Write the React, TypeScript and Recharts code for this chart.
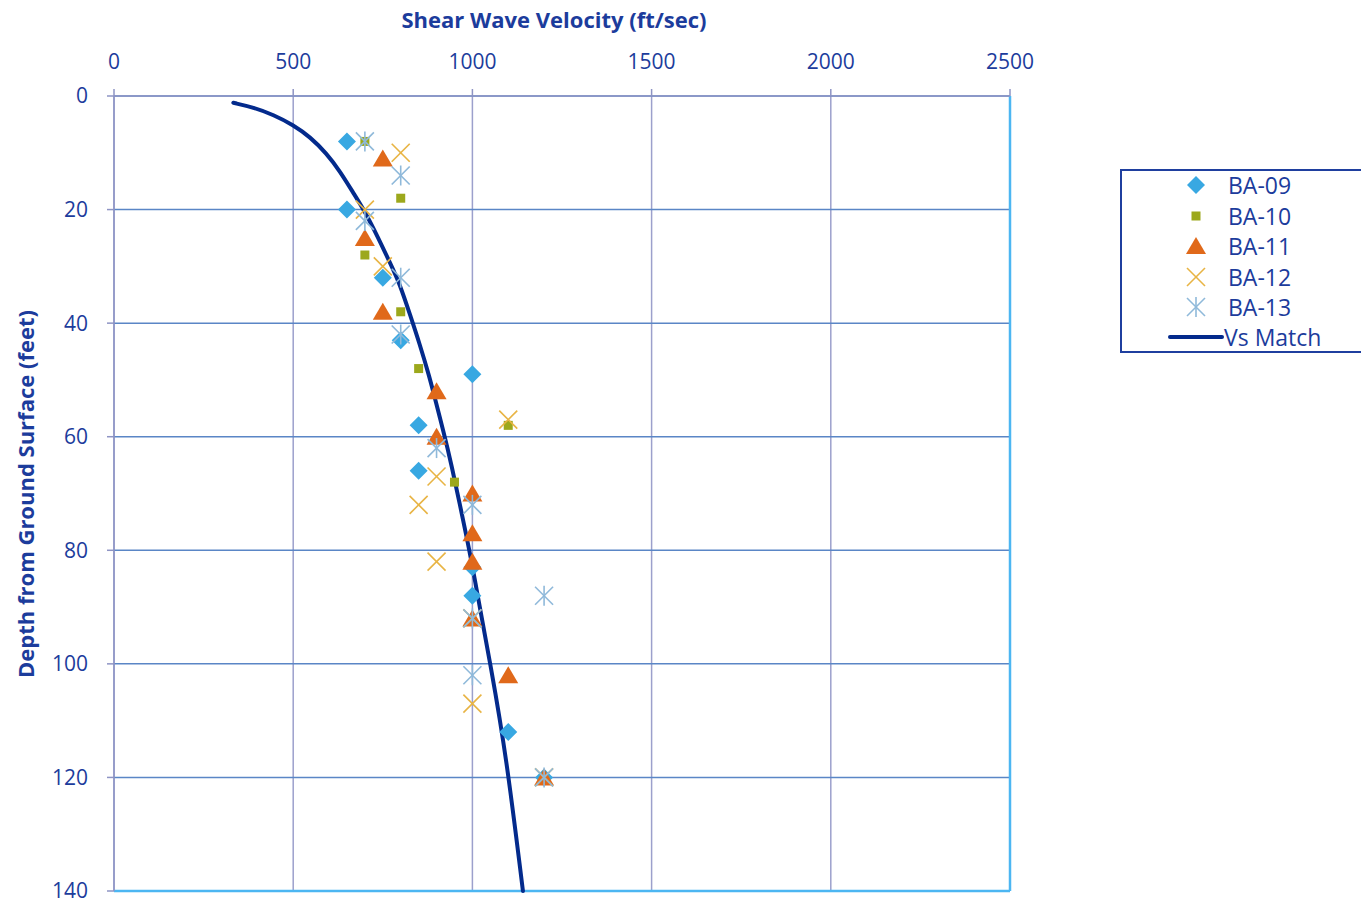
import React from "react";
import {
  ComposedChart,
  Scatter,
  Line,
  XAxis,
  YAxis,
  CartesianGrid,
  ReferenceLine,
} from "recharts";

const TEXT = "#1C3C9C";
const FONT = "'Open Sans', sans-serif";

const velocityTicks = [0, 500, 1000, 1500, 2000, 2500];
const depthTicks = [0, 20, 40, 60, 80, 100, 120, 140];

const ba09 = [
  { v: 650, d: 8 }, { v: 650, d: 20 }, { v: 750, d: 32 }, { v: 800, d: 43 },
  { v: 1000, d: 49 }, { v: 850, d: 58 }, { v: 850, d: 66 }, { v: 1000, d: 83 },
  { v: 1000, d: 88 }, { v: 1100, d: 112 }, { v: 1200, d: 120 },
];
const ba10 = [
  { v: 700, d: 8 }, { v: 800, d: 18 }, { v: 700, d: 28 }, { v: 800, d: 38 },
  { v: 850, d: 48 }, { v: 1100, d: 58 }, { v: 950, d: 68 },
];
const ba11 = [
  { v: 750, d: 11 }, { v: 700, d: 25 }, { v: 750, d: 38 }, { v: 900, d: 52 },
  { v: 900, d: 60 }, { v: 1000, d: 70 }, { v: 1000, d: 77 }, { v: 1000, d: 82 },
  { v: 1000, d: 92 }, { v: 1100, d: 102 }, { v: 1200, d: 120 },
];
const ba12 = [
  { v: 800, d: 10 }, { v: 700, d: 20 }, { v: 750, d: 30 }, { v: 1100, d: 57 },
  { v: 900, d: 67 }, { v: 850, d: 72 }, { v: 900, d: 82 }, { v: 1000, d: 92 },
  { v: 1000, d: 107 }, { v: 1200, d: 120 },
];
const ba13 = [
  { v: 700, d: 8 }, { v: 800, d: 14 }, { v: 700, d: 22 }, { v: 800, d: 32 },
  { v: 800, d: 42 }, { v: 900, d: 62 }, { v: 1000, d: 72 }, { v: 1200, d: 88 },
  { v: 1000, d: 92 }, { v: 1000, d: 102 }, { v: 1200, d: 120 },
];
const vsMatch = [
  { v: 333, d: 1.2 }, { v: 389, d: 2.0 }, { v: 445, d: 3.3 }, { v: 500, d: 5.1 },
  { v: 547, d: 7.2 }, { v: 593, d: 10.1 }, { v: 631, d: 13.3 }, { v: 668, d: 17.1 },
  { v: 698, d: 20.1 }, { v: 736, d: 24.8 }, { v: 771, d: 29.5 }, { v: 797, d: 33 },
  { v: 828, d: 38.9 }, { v: 852, d: 43.5 }, { v: 880, d: 49.4 }, { v: 899, d: 54.1 },
  { v: 918, d: 58.8 }, { v: 937, d: 63.5 }, { v: 992, d: 80 }, { v: 1006, d: 85 },
  { v: 1053, d: 101 }, { v: 1094, d: 116 }, { v: 1141, d: 140 },
];

const C09 = "#38A8E2";
const C10 = "#9CA81C";
const C11 = "#E0691A";
const C12 = "#E8B444";
const C13 = "#8FB9DA";
const CLINE = "#032A8C";

const Diamond = (p: any) => {
  const { cx, cy } = p;
  const r = 9;
  return <polygon points={`${cx},${cy - r} ${cx + r},${cy} ${cx},${cy + r} ${cx - r},${cy}`} fill={C09} />;
};
const Square = (p: any) => {
  const { cx, cy } = p;
  return <rect x={cx - 4.5} y={cy - 4.5} width={9} height={9} fill={C10} />;
};
const Triangle = (p: any) => {
  const { cx, cy } = p;
  return <polygon points={`${cx},${cy - 9} ${cx + 10},${cy + 8} ${cx - 10},${cy + 8}`} fill={C11} />;
};
const Cross = (p: any) => {
  const { cx, cy } = p;
  const r = 9;
  return (
    <g stroke={C12} strokeWidth={1.6}>
      <line x1={cx - r} y1={cy - r} x2={cx + r} y2={cy + r} />
      <line x1={cx - r} y1={cy + r} x2={cx + r} y2={cy - r} />
    </g>
  );
};
const Star = (p: any) => {
  const { cx, cy } = p;
  const r = 9;
  return (
    <g stroke={C13} strokeWidth={1.6}>
      <line x1={cx - r} y1={cy - r} x2={cx + r} y2={cy + r} />
      <line x1={cx - r} y1={cy + r} x2={cx + r} y2={cy - r} />
      <line x1={cx} y1={cy - r - 1} x2={cx} y2={cy + r + 1} />
    </g>
  );
};

const legendItems = [
  { name: "BA-09", Icon: Diamond },
  { name: "BA-10", Icon: Square },
  { name: "BA-11", Icon: Triangle },
  { name: "BA-12", Icon: Cross },
  { name: "BA-13", Icon: Star },
];

export default function App() {
  return (
    <div
      style={{
        position: "absolute",
        left: 0,
        top: 0,
        width: 1361,
        height: 903,
        background: "#fff",
        overflow: "hidden",
        fontFamily: FONT,
      }}
    >
      <ComposedChart
        width={1361}
        height={903}
        margin={{ top: 46, left: 44, right: 351, bottom: 12 }}
      >
        <CartesianGrid horizontal={false} stroke="#9CA0CC" strokeWidth={1.5} />
        <CartesianGrid vertical={false} stroke="#5A86C6" strokeWidth={1.5} />
        <XAxis
          type="number"
          dataKey="v"
          orientation="top"
          domain={[0, 2500]}
          ticks={velocityTicks}
          interval={0}
          height={50}
          axisLine={{ stroke: "#8E94C4", strokeWidth: 1.5 }}
          tickLine={{ stroke: "#8E94C4", strokeWidth: 1.5 }}
          tickSize={7}
          tickMargin={20}
          tick={{ fill: TEXT, fontSize: 21, fontFamily: FONT }}
        />
        <YAxis
          type="number"
          dataKey="d"
          reversed
          domain={[0, 140]}
          ticks={depthTicks}
          interval={0}
          width={70}
          axisLine={{ stroke: "#8E94C4", strokeWidth: 1.5 }}
          tickLine={{ stroke: "#8E94C4", strokeWidth: 1.5 }}
          tickSize={7}
          tickMargin={19}
          tick={{ fill: TEXT, fontSize: 21, fontFamily: FONT }}
        />
        <ReferenceLine x={2500} stroke="#4CB6F2" strokeWidth={2.5} />
        <ReferenceLine y={140} stroke="#4CB6F2" strokeWidth={2.5} />
        <Scatter data={ba09} shape={Diamond} isAnimationActive={false} />
        <Scatter data={ba10} shape={Square} isAnimationActive={false} />
        <Scatter data={ba11} shape={Triangle} isAnimationActive={false} />
        <Scatter data={ba12} shape={Cross} isAnimationActive={false} />
        <Scatter data={ba13} shape={Star} isAnimationActive={false} />
        <Line
          data={vsMatch}
          dataKey="d"
          type="basis"
          stroke={CLINE}
          strokeWidth={4}
          strokeLinecap="round"
          dot={false}
          activeDot={false}
          isAnimationActive={false}
        />
      </ComposedChart>

      <div
        style={{
          position: "absolute",
          left: 554,
          top: 19,
          transform: "translate(-50%, -50%)",
          color: TEXT,
          fontWeight: 700,
          fontSize: 22,
          whiteSpace: "nowrap",
        }}
      >
        Shear Wave Velocity (ft/sec)
      </div>
      <div
        style={{
          position: "absolute",
          left: 25,
          top: 494,
          transform: "translate(-50%, -50%) rotate(-90deg)",
          color: TEXT,
          fontWeight: 700,
          fontSize: 22,
          whiteSpace: "nowrap",
        }}
      >
        Depth from Ground Surface (feet)
      </div>

      <div
        style={{
          position: "absolute",
          left: 1120,
          top: 169,
          width: 260,
          height: 184,
          border: "2px solid #1F3F9F",
          boxSizing: "border-box",
        }}
      />
      {legendItems.map((it, i) => (
        <div
          key={it.name}
          style={{
            position: "absolute",
            left: 1180,
            top: 185 + i * 30.5 - 15,
            height: 30,
            display: "flex",
            alignItems: "center",
          }}
        >
          <svg width={32} height={30} style={{ display: "block" }}>
            <it.Icon cx={16} cy={15} />
          </svg>
          <span style={{ marginLeft: 16, color: TEXT, fontSize: 23 }}>{it.name}</span>
        </div>
      ))}
      <div
        style={{
          position: "absolute",
          left: 1168,
          top: 337 - 15,
          height: 30,
          display: "flex",
          alignItems: "center",
        }}
      >
        <svg width={56} height={30} style={{ display: "block" }}>
          <line x1={2} y1={15} x2={54} y2={15} stroke={CLINE} strokeWidth={4} strokeLinecap="round" />
        </svg>
        <span style={{ color: TEXT, fontSize: 23 }}>Vs Match</span>
      </div>
    </div>
  );
}
